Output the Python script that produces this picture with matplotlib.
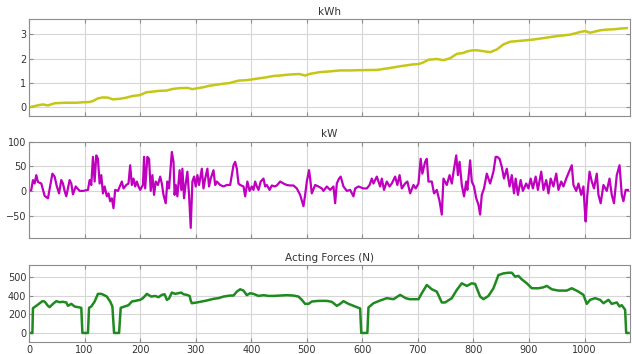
import matplotlib.pyplot as plt

# energy (kWh) as (time, value)
kwh_pts = [(0, 0.0), (19, 0.1), (25, 0.12), (34, 0.08), (46, 0.17), (67, 0.19), (85, 0.19),
           (97, 0.21), (109, 0.22), (115, 0.26), (124, 0.37), (133, 0.41), (142, 0.4),
           (151, 0.33), (163, 0.35), (175, 0.4), (187, 0.47), (199, 0.5), (211, 0.62),
           (223, 0.65), (235, 0.68), (247, 0.69), (259, 0.76), (271, 0.79), (285, 0.8),
           (294, 0.75), (314, 0.83), (325, 0.89), (337, 0.93), (349, 0.97), (361, 1.0),
           (367, 1.04), (377, 1.1), (392, 1.12), (404, 1.16), (416, 1.2), (428, 1.24),
           (440, 1.29), (452, 1.31), (464, 1.34), (476, 1.36), (487, 1.37), (497, 1.31),
           (506, 1.38), (524, 1.45), (542, 1.48), (560, 1.52), (578, 1.52), (596, 1.53),
           (626, 1.54), (644, 1.6), (668, 1.69), (692, 1.77), (701, 1.78), (710, 1.85),
           (719, 1.96), (734, 1.99), (746, 1.94), (758, 2.02), (770, 2.2), (782, 2.24),
           (788, 2.3), (797, 2.34), (806, 2.35), (818, 2.31), (830, 2.27), (842, 2.38),
           (854, 2.59), (866, 2.7), (890, 2.75), (908, 2.79), (926, 2.85), (950, 2.93),
           (974, 2.99), (992, 3.1), (1001, 3.14), (1010, 3.07), (1028, 3.17), (1040, 3.2),
           (1052, 3.21), (1064, 3.24), (1076, 3.26)]

# power (kW)
kw_pts = [(0, 0), (4, 2), (7, 22), (10, 15), (13, 32), (16, 18), (22, 15), (28, -10), (34, -15),
          (42, 35), (46, 29), (50, 9), (54, -5), (58, 22), (61, 15), (64, 0), (67, -11), (73, 22),
          (76, 15), (79, -7), (84, 9), (88, 4), (91, 0), (97, 0), (106, 2), (109, 22), (112, 12),
          (115, 69), (118, 19), (121, 72), (124, 65), (127, 15), (130, 32), (133, -5), (136, 9),
          (140, -11), (143, -5), (146, -21), (149, -15), (152, -35), (155, 2), (160, 0), (167, 19),
          (170, 5), (175, 12), (179, 15), (182, 52), (185, 12), (188, 25), (191, 9), (194, 19),
          (197, 9), (200, 2), (205, 12), (207, 69), (209, 5), (213, 69), (216, 65), (219, 0),
          (222, 32), (225, -8), (228, 19), (232, 12), (236, 29), (239, 15), (242, -8), (246, -25),
          (249, 19), (252, 5), (257, 79), (260, 59), (262, -8), (264, 12), (267, -11), (271, 42),
          (274, 2), (276, 45), (279, -15), (282, 15), (285, 39), (288, -8), (291, -75), (294, 19),
          (297, 29), (300, 9), (303, 32), (306, 12), (311, 45), (314, 5), (317, 25), (321, 45),
          (324, 9), (327, 25), (332, 42), (335, 12), (338, 19), (344, 12), (350, 9), (356, 12),
          (362, 12), (368, 52), (371, 59), (374, 45), (377, 15), (380, 12), (386, 9), (389, -11),
          (393, 19), (397, 0), (401, 9), (404, 2), (407, 19), (410, 9), (413, 2), (417, 19),
          (422, 25), (425, 9), (428, 12), (433, 2), (437, 11), (442, 9), (446, 11), (452, 19),
          (458, 15), (464, 12), (470, 11), (476, 11), (482, 5), (488, -8), (494, -31), (497, -8),
          (500, 19), (504, 42), (506, 25), (509, -5), (515, 12), (521, 9), (527, 5), (530, 0),
          (536, 9), (542, 2), (548, 9), (551, -25), (554, 15), (558, 25), (561, 29), (566, 9),
          (572, 0), (578, 2), (584, -11), (587, 5), (593, 9), (602, 5), (608, 5), (613, 12),
          (617, 25), (620, 15), (626, 29), (632, 9), (635, 25), (639, 2), (644, 19), (649, 9),
          (653, 15), (659, 29), (663, 12), (667, 32), (671, 5), (677, 15), (681, 19), (686, -5),
          (692, 12), (696, 5), (701, 15), (705, 65), (708, 35), (713, 59), (716, 65), (719, 19),
          (725, 19), (729, -5), (734, 2), (739, -21), (743, -48), (746, 25), (752, 12), (757, 32),
          (761, 15), (765, 45), (769, 72), (772, 32), (775, 59), (779, 12), (783, -11), (787, 19),
          (789, 2), (794, 62), (797, 19), (801, 9), (805, -15), (809, -28), (812, -48), (815, -8),
          (819, 5), (824, 35), (830, 15), (836, 39), (840, 69), (843, 69), (847, 65), (851, 49),
          (855, 25), (860, 45), (865, 9), (869, 32), (873, -5), (876, 25), (880, -8), (885, 22),
          (889, 0), (895, 15), (899, 5), (903, 25), (907, 5), (912, 29), (916, 2), (922, 39),
          (926, 2), (931, 22), (935, -5), (939, 25), (944, 9), (949, 35), (953, 2), (958, 19),
          (962, 9), (967, 25), (977, 52), (980, 12), (985, 0), (989, 15), (994, -8), (998, 9),
          (1000, -30), (1002, -62), (1005, -8), (1009, 39), (1013, 19), (1017, 5), (1022, 35),
          (1025, -8), (1029, -25), (1034, 12), (1040, 0), (1045, 25), (1049, -8), (1053, -25),
          (1058, 32), (1063, 52), (1067, -8), (1070, -21), (1074, 2), (1078, 2)]

# acting forces (N)
force_pts = [(0, 0), (6, 0), (7, 265), (13, 290), (19, 318), (24, 340), (28, 336), (34, 290),
             (37, 276), (43, 311), (49, 340), (55, 329), (61, 333), (67, 326), (70, 290),
             (76, 311), (82, 283), (88, 276), (94, 269), (96, 0), (106, 0), (108, 269),
             (112, 283), (118, 336), (124, 418), (130, 418), (135, 405), (140, 389), (146, 336),
             (150, 283), (153, 0), (162, 0), (165, 269), (172, 283), (179, 297), (185, 336),
             (194, 347), (200, 354), (205, 372), (212, 418), (220, 389), (227, 396), (233, 382),
             (239, 407), (244, 414), (248, 354), (252, 368), (257, 432), (263, 418), (269, 425),
             (274, 432), (278, 414), (284, 407), (289, 396), (291, 347), (293, 318), (302, 326),
             (311, 336), (320, 347), (332, 365), (341, 372), (350, 389), (362, 400), (368, 400),
             (374, 442), (380, 467), (386, 453), (392, 404), (398, 425), (404, 418), (413, 396),
             (422, 404), (431, 396), (440, 396), (452, 400), (464, 404), (476, 400), (485, 389),
             (491, 354), (497, 311), (503, 311), (509, 336), (521, 343), (536, 343), (545, 333),
             (554, 290), (560, 311), (566, 340), (575, 311), (584, 290), (596, 262), (598, 0),
             (609, 0), (611, 273), (620, 318), (632, 347), (644, 372), (656, 361), (668, 407),
             (678, 372), (685, 361), (701, 361), (707, 425), (716, 513), (725, 467), (734, 442),
             (743, 326), (749, 326), (761, 372), (770, 460), (779, 531), (788, 503), (797, 531),
             (803, 524), (812, 389), (818, 361), (827, 396), (836, 478), (845, 619), (854, 637),
             (863, 644), (869, 644), (875, 602), (881, 610), (887, 573), (896, 531), (905, 478),
             (917, 478), (926, 488), (932, 503), (941, 467), (953, 453), (968, 453), (977, 478),
             (989, 442), (998, 407), (1004, 311), (1010, 354), (1019, 372), (1028, 354),
             (1034, 318), (1043, 354), (1049, 311), (1058, 326), (1063, 283), (1067, 297),
             (1073, 248), (1075, 0), (1079, 0)]

t_kwh, kwh = zip(*kwh_pts)
t_kw, kw = zip(*kw_pts)
t_force, force = zip(*force_pts)

# colours picked to look like the matlab figure
c_kwh = '#c6c617'
c_kw = '#bf00bf'
c_force = '#1f8a1f'
grid_c = '#d6d6d6'
spine_c = '#8c8c8c'
text_c = '#333333'

fig = plt.figure(figsize=(6.32, 3.54), dpi=100)
ax1 = fig.add_axes([0.046, 0.672, 0.951, 0.274])
ax2 = fig.add_axes([0.046, 0.327, 0.951, 0.273])
ax3 = fig.add_axes([0.046, 0.033, 0.951, 0.218])

ax1.plot(t_kwh, kwh, color=c_kwh, linewidth=1.8)
ax2.plot(t_kw, kw, color=c_kw, linewidth=1.6)
ax3.plot(t_force, force, color=c_force, linewidth=1.8)

ax1.set_title('kWh', fontsize=7.5, color=text_c, pad=3)
ax2.set_title('kW', fontsize=7.5, color=text_c, pad=3)
ax3.set_title('Acting Forces (N)', fontsize=7.5, color=text_c, pad=3)

ax1.set_ylim(-0.36, 3.63)
ax1.set_yticks([0, 1, 2, 3])
ax2.set_ylim(-96, 100)
ax2.set_yticks([-50, 0, 50, 100])
ax3.set_ylim(-100, 725)
# the reference labels its top gridline "500"
ax3.set_yticks([0, 200, 400, 600], labels=['0', '200', '400', '500'])

for ax in [ax1, ax2, ax3]:
    ax.set_xlim(0, 1082)
    ax.set_xticks(range(0, 1001, 100))
    ax.grid(True, color=grid_c, linewidth=0.8)
    ax.set_axisbelow(True)
    ax.tick_params(direction='in', length=3, top=True, right=True, labelsize=7,
                   colors=spine_c, labelcolor=text_c, pad=2)
    for s in ax.spines.values():
        s.set_color(spine_c)
        s.set_linewidth(0.8)

ax1.tick_params(labelbottom=False)
ax2.tick_params(labelbottom=False)

plt.savefig('out.png', dpi=100)
